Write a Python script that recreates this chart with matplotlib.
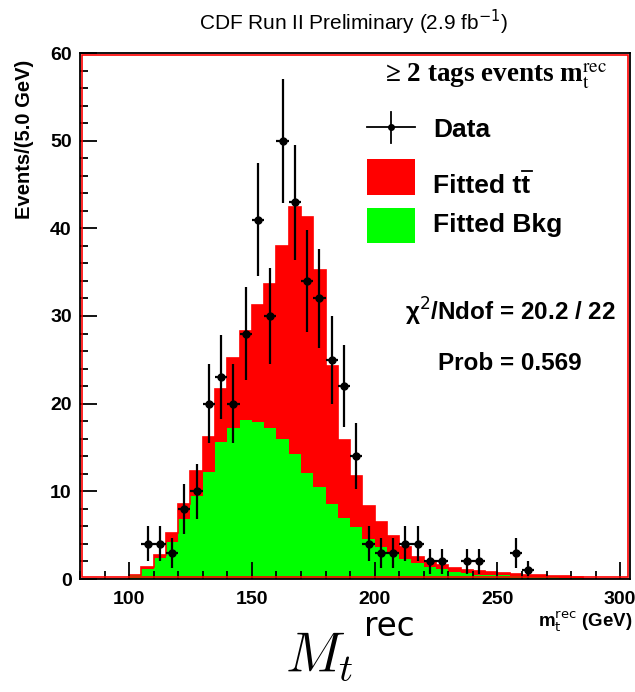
import numpy as np
import matplotlib
matplotlib.use("Agg")
import matplotlib.pyplot as plt
from matplotlib.patches import Rectangle
from matplotlib.lines import Line2D
from matplotlib.ticker import MultipleLocator

# 5 GeV bins, 80 -> 305 GeV
bin_edges = np.arange(80, 310, 5)

# stacked total (ttbar + background), red
total_fit = [0, 0, 0, 0, 0.45, 1.35, 2.7, 5.2, 8.5, 12.35, 16.15, 21.7, 25.2,
             28.25, 31.2, 33.7, 38.0, 42.45, 41.3, 35.2, 24.3, 15.9, 11.8, 8.3,
             6.5, 4.9, 3.7, 2.55, 2.05, 1.6, 1.2, 1.0, 0.9, 0.8, 0.7, 0.55,
             0.45, 0.4, 0.35, 0.3, 0.2, 0, 0, 0, 0]

# fitted background, green
bkg_fit = [0, 0, 0, 0, 0.4, 1.1, 2.4, 4.25, 6.8, 9.5, 12.2, 15.6, 17.25,
           18.15, 17.95, 17.25, 15.95, 14.3, 12.1, 10.5, 8.5, 7.0, 5.9, 4.6,
           3.7, 2.9, 2.25, 1.8, 1.4, 1.1, 0.8, 0.65, 0.5, 0.45, 0.4, 0.3,
           0.25, 0.2, 0.2, 0.15, 0.12, 0, 0, 0, 0]

# data (non-empty bins only)
data_x = [107.5, 112.5, 117.5, 122.5, 127.5, 132.5, 137.5, 142.5, 147.5,
          152.5, 157.5, 162.5, 167.5, 172.5, 177.5, 182.5, 187.5, 192.5,
          197.5, 202.5, 207.5, 212.5, 217.5, 222.5, 227.5, 237.5, 242.5,
          257.5, 262.5]
data_n = [4, 4, 3, 8, 10, 20, 23, 20, 28, 41, 30, 50, 43, 34, 32, 25, 22, 14,
          4, 3, 3, 4, 4, 2, 2, 2, 2, 3, 1]

x_major = [100, 150, 200, 250, 300]
y_major = [0, 10, 20, 30, 40, 50, 60]

plt.rcParams['font.family'] = ['Liberation Sans', 'DejaVu Sans']

fig = plt.figure(figsize=(6.35, 6.92), dpi=100)
ax = fig.add_axes([80/635, 113/692, 550/635, 526/692])

ax.stairs(total_fit, bin_edges, fill=True, color='#ff0000', lw=0)
ax.stairs(bkg_fit, bin_edges, fill=True, color='#00ff00', lw=0)
ax.stairs(total_fit, bin_edges, fill=False, color='#ff0000', lw=1.2)

data_n = np.array(data_n, dtype=float)
ax.errorbar(data_x, data_n, yerr=np.sqrt(data_n), xerr=2.5, fmt='o',
            color='black', ms=5, elinewidth=1.6, capsize=0, zorder=5)

ax.set_xlim(80, 304)
ax.set_ylim(0, 60)
ax.set_xticks(x_major)
ax.set_yticks(y_major)
ax.xaxis.set_minor_locator(MultipleLocator(10))
ax.yaxis.set_minor_locator(MultipleLocator(2))
ax.tick_params(which='both', direction='in', top=False, right=False,
               width=1.3, color='black')
ax.tick_params(which='major', length=12)
ax.tick_params(which='minor', length=6)
ax.tick_params(axis='x', which='major', pad=9, labelsize=14)
ax.tick_params(axis='y', which='major', pad=6, labelsize=14)
for lab in ax.get_xticklabels() + ax.get_yticklabels():
    lab.set_fontweight('bold')
for sp in ax.spines.values():
    sp.set_linewidth(1.3)
    sp.set_zorder(10)

# red histogram frame just inside the axes box
ax.add_patch(Rectangle((0.003, 0.003), 0.994, 0.994, transform=ax.transAxes,
                       fill=False, edgecolor='#ff0000', lw=1.2, zorder=9))

fig.text(0.557, 1 - 22/692, 'CDF Run II Preliminary (2.9 fb$^{-1}$)',
         ha='center', va='center', fontsize=15)
fig.text(25/635, 1 - 60/692, 'Events/(5.0 GeV)', rotation=90, ha='center',
         va='top', fontsize=14.5, fontweight='bold')
fig.text(632/635, 1 - 622/692, r'm$_{\rm t}^{\rm rec}$ (GeV)', ha='right',
         va='center', fontsize=13.5, fontweight='bold')

# big axis symbol: italic serif M_t with sans "rec"
fig.text(285/635, 1 - 672/692, r'$M_t$', ha='left', va='baseline',
         fontsize=40, math_fontfamily='cm')
fig.text(364/635, 1 - 636/692, 'rec', ha='left', va='baseline',
         fontsize=23.5, family='DejaVu Sans')

# legend block drawn by hand (ROOT style)
def fx(px):
    return (px - 80) / 550

def fy(py):
    return (579 - py) / 526

ax.text(fx(385), fy(76), '\u2265 2 tags events m$_{\\rm t}^{\\rm rec}$',
        transform=ax.transAxes, family='Liberation Serif', fontweight='bold',
        fontsize=19.5, math_fontfamily='stix', va='center', ha='left')

ax.add_line(Line2D([fx(367), fx(415)], [fy(127), fy(127)], color='black',
                   lw=1.3, transform=ax.transAxes))
ax.add_line(Line2D([fx(391), fx(391)], [fy(112), fy(143)], color='black',
                   lw=1.3, transform=ax.transAxes))
ax.plot([fx(391)], [fy(127)], 'o', color='black', ms=4,
        transform=ax.transAxes)
ax.add_patch(Rectangle((fx(367), fy(195)), fx(415) - fx(367),
                       fy(159) - fy(195), transform=ax.transAxes,
                       color='#ff0000', lw=0))
ax.add_patch(Rectangle((fx(367), fy(243)), fx(415) - fx(367),
                       fy(208) - fy(243), transform=ax.transAxes,
                       color='#00ff00', lw=0))
ax.text(fx(433), fy(130), 'Data', transform=ax.transAxes, fontsize=19,
        fontweight='bold', va='center', ha='left')
ax.text(fx(433), fy(186), 'Fitted tt', transform=ax.transAxes,
        fontsize=19, fontweight='bold', va='center', ha='left')
# bar over the second t
ax.add_line(Line2D([fx(522), fx(532)], [fy(171), fy(171)], color='black',
                   lw=1.3, transform=ax.transAxes))
ax.text(fx(433), fy(225), 'Fitted Bkg', transform=ax.transAxes, fontsize=19,
        fontweight='bold', va='center', ha='left')
ax.text(fx(510), fy(312), '\u03c7$^{2}$/Ndof = 20.2 / 22',
        transform=ax.transAxes, fontsize=17.5, fontweight='bold',
        va='center', ha='center')
ax.text(fx(510), fy(363), 'Prob = 0.569', transform=ax.transAxes,
        fontsize=17.5, fontweight='bold', va='center', ha='center')

fig.savefig('out.png', dpi=100)
